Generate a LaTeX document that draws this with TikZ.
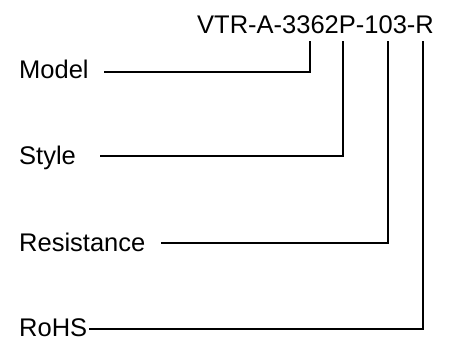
\documentclass[tikz,border=0pt]{standalone}
\usepackage{fontspec}
\setmainfont{Liberation Sans}
\begin{document}
\begin{tikzpicture}[x=1pt,y=-1pt,
  lbl/.style={anchor=base west,inner sep=0pt,font=\fontsize{25.5}{30}\selectfont},
  lead/.style={line width=1.1pt,line cap=rect}]
\useasboundingbox (0,0) rectangle (460,340);
\node[lbl] (title) at (197,33) {VTR-A-3362P-103-R};
\node[lbl] (model) at (19,78) {Model};
\node[lbl] (style) at (19,164.5) {Style};
\node[lbl] (res) at (19,251.5) {Resistance};
\node[lbl] (rohs) at (19,336.5) {RoHS};
\coordinate (tm) at (310,42);
\coordinate (ts) at (343,42);
\coordinate (tr) at (388,42);
\coordinate (th) at (423,42);
\coordinate (sm) at (105,72);
\coordinate (ss) at (101,156);
\coordinate (sr) at (162,243);
\coordinate (sh) at (90,329);
\draw[lead] (sm) -| (tm);
\draw[lead] (ss) -| (ts);
\draw[lead] (sr) -| (tr);
\draw[lead] (sh) -| (th);
\end{tikzpicture}
\end{document}
